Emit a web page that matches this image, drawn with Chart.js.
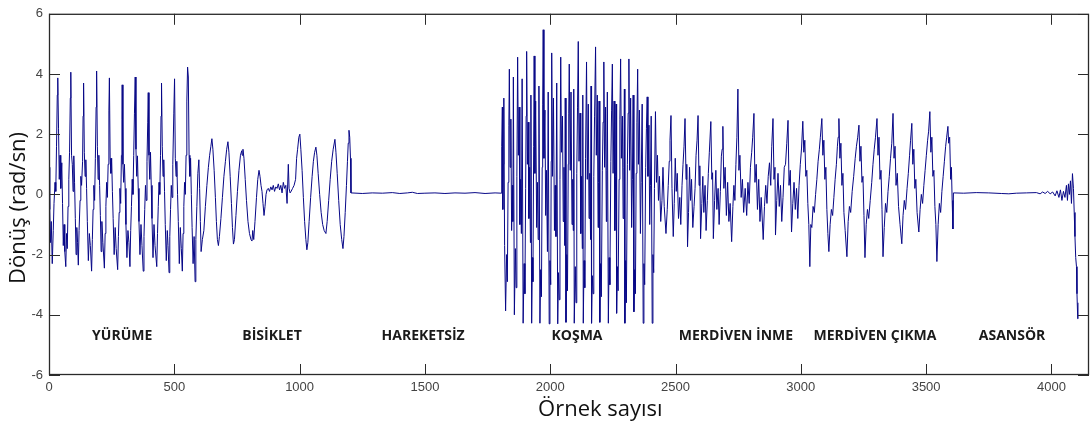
<!DOCTYPE html>
<html>
<head>
<meta charset="utf-8">
<script src="https://cdn.jsdelivr.net/npm/chart.js@4.4.1/dist/chart.umd.min.js"></script>
<style>
  html, body { margin: 0; padding: 0; background: #fff; }
  #wrap { width: 1092px; height: 426px; position: relative; }
</style>
</head>
<body>
<div id="wrap"><canvas id="chart"></canvas></div>
<script>
// Gyro rotation readings (sample index, rad/sn) per activity
const walking = [
  [0,0.9],[3,-0.5],[6,-1.6],[9,-0.9],[13,-2.3],[17,-1.2],[20,-0.3],[24,0.4],[27,0.1],[30,1.6],[33,3.3],[35,3.87],
  [38,2.2],[41,0.5],[44,1.3],[47,0.2],[51,1.05],[54,-0.3],[57,-1.7],[60,-1.0],[63,-1.9],[67,-2.4],[70,-1.3],[73,-1.8],[76,-0.4],[79,0.5],[82,1.4],[85,3.2],[87,4.06],
  [90,1.3],[93,1.0],[96,0.1],[99,1.28],[102,0.4],[105,-0.8],[108,-2.0],[111,-1.1],[114,-1.6],[117,-2.35],[120,-1.2],[124,-0.2],[127,0.6],[130,0.3],[134,1.1],[136,2.6],[138,3.7],
  [141,1.4],[144,0.6],[147,1.15],[150,0.2],[153,-0.9],[157,-2.2],[161,-1.3],[165,-1.7],[170,-2.55],[173,-1.5],[176,-0.5],[179,0.3],[182,-0.2],[185,1.2],[188,2.9],[190,4.1],
  [193,1.6],[196,0.5],[199,1.3],[202,0.3],[205,-0.7],[208,-1.9],[211,-0.9],[215,-1.6],[221,-2.45],[224,-1.3],[227,-0.4],[230,0.4],[233,-0.1],[236,1.0],[239,2.8],[241,3.87],
  [244,1.2],[247,0.7],[250,1.2],[253,0.1],[256,-0.8],[260,-2.0],[264,-1.1],[268,-1.8],[274,-2.5],[277,-1.4],[280,-0.6],[283,0.2],[286,-0.3],[289,1.3],[291,2.5],[292,3.64],
  [295,1.0],[298,0.4],[301,1.0],[304,0.2],[307,-1.0],[311,-2.1],[315,-1.2],[319,-1.6],[323,-2.4],[326,-1.2],[329,-0.4],[332,0.5],[335,0.0],[338,1.3],[341,2.7],[344,3.9],
  [347,1.5],[350,0.6],[353,1.28],[356,0.2],[359,-0.9],[363,-2.0],[367,-1.0],[371,-1.7],[376,-2.55],[379,-1.4],[382,-0.5],[385,0.3],[388,-0.2],[391,1.1],[394,2.4],[396,3.38],
  [399,1.3],[402,0.5],[405,1.4],[408,0.3],[411,-0.8],[415,-2.1],[419,-1.0],[423,-1.7],[430,-2.4],[433,-1.3],[436,-0.4],[439,0.4],[442,0.0],[445,1.3],[447,2.6],[449,3.7],
  [452,1.6],[455,0.6],[458,1.15],[461,0.1],[464,-1.0],[468,-2.2],[472,-1.2],[475,-1.7],[479,-2.6],[482,-1.4],[485,-0.5],[488,0.3],[491,-0.1],[494,1.0],[498,2.7],[501,3.84],
  [504,1.2],[507,0.6],[510,1.1],[513,0.0],[516,-0.9],[520,-2.3],[524,-1.1],[528,-1.8],[532,-2.55],[535,-1.3],[538,-0.4],[541,0.4],[544,0.0],[547,1.3],[550,3.1],[553,4.23],
  [556,3.9],[559,1.3],[562,0.6],[565,1.2],[568,0.0],[571,-1.1],[575,-2.3],[579,-1.4],[583,-2.9],[586,-1.5],[590,-0.4],[594,0.7],[598,1.15],[601,0.2],[604,-0.9]
];

const cycling = [
  [607,-1.9],[612,-1.5],[618,-1.2],[624,-0.4],[630,0.3],[636,0.9],[641,1.3],[646,1.6],[650,1.85],[654,1.5],[659,0.8],[664,-0.1],[668,-0.9],[672,-1.5],[676,-1.7],
  [680,-1.4],[686,-0.8],[692,-0.1],[698,0.6],[704,1.1],[709,1.5],[714,1.75],[718,1.4],[723,0.6],[728,-0.3],[732,-1.1],[736,-1.65],[740,-1.5],[746,-0.7],
  [752,0.1],[758,0.8],[764,1.3],[769,1.45],[771,1.3],[774,1.5],[778,1.2],[783,0.5],[788,-0.2],[794,-0.9],[800,-1.3],[806,-1.5],[810,-1.55],[813,-1.2],[817,-1.5],
  [822,-0.9],[828,-0.1],[833,0.5],[838,0.8],[842,0.6],[846,0.3],[850,0.1],[854,-0.3],[858,-0.7],[862,-0.4],[866,0.0],[870,0.15],[875,0.2],[880,0.1],[885,0.25],
  [890,0.15],[895,0.3],[900,0.1],[905,0.25],[910,0.2],[915,0.35],[920,0.15],[925,0.3],[930,0.05],[935,0.4],[940,0.2],[945,0.3],[950,-0.3],[955,1.0],[958,0.2],
  [962,0.05],[966,0.1],[972,0.2],[978,0.3],[984,0.5],[988,1.2],[992,1.5],[997,1.9],[1001,2.0],[1005,1.5],[1010,0.8],[1015,-0.1],[1020,-0.9],[1025,-1.5],[1029,-1.84],
  [1033,-1.6],[1038,-0.9],[1044,-0.1],[1050,0.6],[1055,1.1],[1060,1.4],[1065,1.57],[1069,1.3],[1074,0.7],[1080,0.0],[1086,-0.6],[1092,-1.0],[1098,-1.2],[1105,-1.3],
  [1110,-0.9],[1116,-0.2],[1122,0.5],[1128,1.1],[1134,1.5],[1141,1.83],[1145,1.4],[1150,0.7],[1156,-0.2],[1162,-1.0],[1168,-1.5],[1173,-1.8],[1177,-1.4],[1182,-0.6],
  [1187,0.3],[1191,1.1],[1194,1.7],[1197,2.13],[1200,1.9],[1203,1.2],[1205,0.05]
];

const resting = [
  [1250,0.03],[1290,0.05],[1330,0.04],[1370,0.06],[1400,0.03],[1430,0.05],[1450,0.07],[1470,0.03],[1500,0.04],
  [1540,0.05],[1580,0.03],[1620,0.05],[1660,0.04],[1700,0.06],[1740,0.03],[1780,0.05],[1805,0.04]
];

const running = [
  [1806,0.05],[1807,1.6],[1809,2.9],[1811,-0.5],[1813,1.0],[1815,3.2],[1818,-1.7],[1822,-3.87],
  [1826,-2.0],[1829,-2.9],[1832,0.4],[1835,2.3],[1837,4.16],[1840,0.9],[1843,2.5],[1846,-1.2],[1849,0.3],[1851,-0.9],[1853,3.9],[1857,-4.0],
  [1861,-1.8],[1864,-3.1],[1867,0.6],[1870,4.56],[1873,1.3],[1876,2.9],[1879,-1.0],[1882,0.5],[1885,-1.3],[1888,3.84],[1892,-4.28],
  [1896,-2.3],[1899,-3.3],[1902,0.2],[1904,2.6],[1906,4.75],[1909,1.0],[1912,2.4],[1915,-0.8],[1918,0.9],[1921,-1.6],[1923,3.3],[1926,-4.28],
  [1929,-2.1],[1931,-2.9],[1934,1.6],[1936,4.6],[1939,0.7],[1942,3.1],[1946,-1.1],[1949,0.4],[1952,-1.5],[1955,3.6],[1959,-4.28],
  [1962,-2.5],[1965,-3.4],[1968,0.9],[1970,3.0],[1972,5.47],[1975,1.2],[1979,2.8],[1982,-0.7],[1985,0.8],[1989,-1.9],[1992,3.4],[1996,-4.3],
  [1999,-2.2],[2002,-3.0],[2004,1.1],[2006,4.7],[2009,0.6],[2013,3.2],[2017,-1.2],[2020,0.3],[2023,-1.4],[2026,3.7],[2030,-4.3],
  [2033,-2.6],[2036,-3.5],[2039,0.5],[2042,4.56],[2045,1.4],[2049,2.6],[2052,-0.9],[2055,0.9],[2058,-1.7],[2060,3.2],[2063,-4.25],
  [2066,-2.0],[2069,-3.2],[2072,1.0],[2074,2.7],[2076,4.33],[2080,0.8],[2083,3.4],[2087,-1.0],[2090,0.5],[2092,-1.2],[2094,3.5],[2096,-4.28],
  [2100,-2.4],[2103,-3.6],[2106,0.7],[2109,2.9],[2112,5.08],[2115,1.1],[2119,2.7],[2122,-1.3],[2125,0.6],[2128,-1.8],[2130,3.3],[2132,-4.28],
  [2135,-2.2],[2138,-3.1],[2141,1.2],[2145,4.4],[2148,0.5],[2152,3.0],[2155,-0.8],[2158,0.7],[2161,-1.5],[2163,3.6],[2165,-4.28],
  [2168,-2.7],[2171,-3.3],[2174,0.6],[2177,2.6],[2181,4.9],[2184,1.3],[2188,3.3],[2191,-1.1],[2193,0.4],[2195,3.1],[2198,-4.25],
  [2201,-2.3],[2204,-3.4],[2208,0.8],[2211,2.4],[2214,4.4],[2217,0.9],[2221,2.9],[2224,-0.9],[2226,0.8],[2228,3.4],[2232,-4.28],
  [2235,-2.1],[2238,-3.0],[2242,1.1],[2245,2.8],[2248,4.33],[2251,0.7],[2255,3.1],[2258,-1.2],[2261,0.6],[2263,3.0],[2265,-3.95],
  [2268,-2.4],[2271,-3.2],[2275,0.5],[2278,2.5],[2281,4.5],[2284,1.2],[2288,2.6],[2291,-0.8],[2294,0.9],[2296,3.5],[2298,-4.28],
  [2301,-2.2],[2304,-3.6],[2308,1.0],[2311,2.7],[2314,4.5],[2317,0.8],[2321,3.2],[2325,-1.1],[2328,0.5],[2331,3.3],[2334,-3.9],
  [2337,-2.5],[2340,-3.3],[2343,0.7],[2346,2.4],[2349,4.16],[2352,1.0],[2356,2.8],[2360,-1.3],[2363,0.4],[2367,3.0],[2371,-4.28],
  [2374,-2.3],[2377,-3.0],[2381,0.9],[2384,2.2],[2387,3.24],[2390,0.6],[2394,2.3],[2397,-1.0],[2400,0.3],[2403,2.6],[2407,-4.28],
  [2410,-2.0],[2413,-2.6],[2416,0.2]
];

const stairsDown = [
  [2420,2.75],[2424,0.4],[2428,1.3],[2432,-0.2],[2436,0.6],[2441,-0.9],[2446,-0.2],[2450,0.9],[2455,-0.4],[2462,-1.3],[2467,-0.5],[2471,0.3],[2475,1.1],[2478,1.8],[2482,2.62],
  [2486,0.2],[2491,-1.4],[2495,-0.3],[2499,1.2],[2503,0.1],[2507,0.7],[2512,-0.8],[2517,-0.1],[2521,-1.0],[2526,0.3],[2530,1.0],[2534,1.6],[2538,2.52],
  [2542,0.5],[2545,1.0],[2548,-1.74],[2552,-0.6],[2556,0.9],[2560,-0.2],[2564,0.5],[2569,-1.1],[2574,-0.4],[2578,0.2],[2582,1.3],[2586,1.8],[2590,2.62],
  [2594,0.3],[2597,0.95],[2600,-1.47],[2605,-0.3],[2609,0.6],[2613,-0.6],[2618,0.3],[2622,-1.2],[2627,-0.2],[2631,0.7],[2635,1.4],[2641,2.42],
  [2645,0.5],[2648,0.72],[2651,-1.47],[2656,-0.2],[2661,0.8],[2665,-0.5],[2670,0.2],[2674,-1.0],[2679,0.1],[2683,1.27],[2686,1.5],[2689,2.26],
  [2693,0.2],[2698,0.9],[2703,-0.7],[2708,0.4],[2713,-0.9],[2718,-0.3],[2724,-1.57],[2729,-0.4],[2733,0.3],[2737,-0.2],[2741,1.0],[2745,1.9],[2749,3.5],
  [2753,0.8],[2757,1.3],[2762,-0.1],[2767,0.5],[2772,-0.6],[2778,0.2],[2784,-0.7],[2789,0.4],[2794,-0.3],[2799,0.9],[2804,1.4],[2808,1.9],[2813,2.69],
  [2817,0.4],[2822,1.0],[2827,-0.5],[2832,0.5],[2837,-0.9],[2842,-0.1],[2850,-1.5],[2855,-0.4],[2860,0.3],[2865,-0.3],[2870,0.6],[2875,1.05],[2880,0.3],[2884,1.6],[2889,2.52],
  [2893,0.5],[2897,0.9],[2899,-1.35],[2904,-0.2],[2909,0.7],[2914,-0.4],[2919,0.3],[2924,-0.9],[2929,-0.1],[2934,0.9],[2939,1.0],[2944,1.7],[2949,2.46],
  [2953,0.3],[2958,0.8],[2963,-1.25],[2968,-0.3],[2973,0.4],[2978,-0.5],[2983,0.2],[2988,-0.8],[2993,0.3],[2998,1.0],[3003,1.54],[3008,2.43]
];

const stairsUp = [
  [3012,1.4],[3016,1.8],[3020,0.6],[3024,0.8],[3028,-0.3],[3032,-1.0],[3036,-2.4],[3040,-1.0],[3044,-1.1],[3049,-0.4],[3054,-0.6],[3059,0.0],[3064,0.5],[3069,1.1],[3074,1.5],[3078,1.9],[3084,2.52],
  [3088,1.3],[3092,1.8],[3096,0.5],[3100,0.9],[3104,-0.5],[3108,-1.3],[3112,-1.9],[3117,-1.0],[3122,-0.5],[3127,-0.7],[3132,-0.1],[3137,0.5],[3142,1.0],[3146,1.6],[3149,1.9],[3152,2.52],
  [3156,1.2],[3160,1.7],[3164,0.3],[3168,0.7],[3172,-0.6],[3177,-1.2],[3184,-2.07],[3189,-0.9],[3194,-0.4],[3199,-0.6],[3205,0.1],[3211,0.6],[3217,1.2],[3222,1.6],[3227,1.9],[3232,2.3],
  [3236,1.1],[3240,1.6],[3244,0.4],[3248,0.6],[3252,-0.7],[3256,-2.1],[3261,-1.0],[3266,-0.5],[3271,-0.8],[3277,-0.2],[3283,0.4],[3288,1.0],[3293,1.5],[3298,1.9],[3304,2.52],
  [3308,1.3],[3312,1.9],[3316,0.5],[3320,0.8],[3324,-0.5],[3328,-2.07],[3333,-1.1],[3338,-0.3],[3343,-0.6],[3348,0.1],[3353,0.6],[3358,1.2],[3363,1.7],[3368,2.69],
  [3372,1.2],[3376,1.6],[3380,0.3],[3385,0.7],[3390,-0.4],[3396,-1.0],[3403,-1.64],[3408,-0.7],[3413,-0.2],[3418,-0.5],[3424,0.2],[3429,0.7],[3434,1.3],[3438,1.8],[3443,2.36],
  [3447,1.0],[3451,1.5],[3455,0.2],[3459,0.5],[3464,-0.6],[3471,-1.25],[3476,-0.5],[3481,0.0],[3486,-0.3],[3491,0.3],[3496,0.8],[3501,1.3],[3506,1.8],[3510,2.1],[3515,2.75],
  [3519,1.4],[3523,1.9],[3527,0.6],[3531,0.8],[3535,-0.4],[3539,-1.0],[3543,-2.23],[3548,-1.0],[3553,-0.3],[3558,-0.6],[3563,0.1],[3568,0.6],[3573,1.1],[3578,1.6],[3582,1.9],[3587,2.26],
  [3590,1.7],[3594,1.9],[3598,0.5],[3601,0.9],[3604,-0.2],[3607,-1.15]
];

const elevator = [
  [3609,0.05],[3650,0.04],[3700,0.06],[3750,0.05],[3800,0.03],[3830,0.02],[3860,0.04],[3900,0.05],[3940,0.06],[3955,0.02],[3965,0.08],
  [3975,0.03],[3985,0.1],[3995,0.02],[4005,0.08],[4015,-0.05],[4022,0.12],[4030,-0.1],[4036,0.15],[4042,-0.2],[4048,0.1],[4054,-0.1],
  [4060,0.3],[4064,-0.2],[4068,0.35],[4072,0.0],[4076,0.45],[4080,-0.3],[4084,0.69],[4088,0.2],[4091,-0.6],[4094,-1.4],[4097,-2.1],
  [4100,-2.4],[4102,-3.3],[4105,-4.13],[4106,-3.6]
];

// axis ticks
const xTicks = [0, 500, 1000, 1500, 2000, 2500, 3000, 3500, 4000];
const yTicks = [-6, -4, -2, 0, 2, 4, 6];

// activity names written under the signal, centred at these sample indices
const activityNames = ['YÜRÜME', 'BİSİKLET', 'HAREKETSİZ', 'KOŞMA', 'MERDİVEN İNME', 'MERDİVEN ÇIKMA', 'ASANSÖR'];
const activityCenters = [292, 890, 1493, 2107, 2741, 3296, 3843];
const activityLevel = -4.7;

const xTitle = 'Örnek sayısı';
const yTitle = 'Dönüş (rad/sn)';

const signal = [walking, cycling, resting, running, stairsDown, stairsUp, elevator]
  .flat()
  .map(p => ({ x: p[0], y: p[1] }));

// MATLAB style box with inward ticks, activity names and axis titles
const matlabFrame = {
  id: 'matlabFrame',
  afterDraw(chart) {
    const { ctx, chartArea: a, scales: { x, y } } = chart;
    ctx.save();
    ctx.strokeStyle = '#2a2a2a';
    ctx.lineWidth = 1.3;
    ctx.strokeRect(a.left + 0.5, a.top + 0.5, a.width - 1, a.height - 1);

    ctx.lineWidth = 1;
    ctx.beginPath();
    x.ticks.forEach(t => {
      const px = Math.round(x.getPixelForValue(t.value)) + 0.5;
      ctx.moveTo(px, a.bottom); ctx.lineTo(px, a.bottom - 11);
      ctx.moveTo(px, a.top); ctx.lineTo(px, a.top + 11);
    });
    y.ticks.forEach(t => {
      const py = Math.round(y.getPixelForValue(t.value)) + 0.5;
      ctx.moveTo(a.left, py); ctx.lineTo(a.left + 11, py);
      ctx.moveTo(a.right, py); ctx.lineTo(a.right - 11, py);
    });
    ctx.stroke();

    ctx.fillStyle = '#1a1a1a';
    ctx.textAlign = 'center';
    ctx.textBaseline = 'middle';
    ctx.font = 'bold 14px "Open Sans"';
    activityNames.forEach((name, i) => {
      ctx.fillText(name, x.getPixelForValue(activityCenters[i]), y.getPixelForValue(activityLevel));
    });

    ctx.font = '22px "Open Sans"';
    ctx.fillStyle = '#111';
    ctx.fillText(xTitle, x.getPixelForValue(2200), 410);

    ctx.translate(19, y.getPixelForValue(-0.45));
    ctx.rotate(-Math.PI / 2);
    ctx.fillText(yTitle, 0, 0);
    ctx.restore();
  }
};

const ctx = document.getElementById('chart');
new Chart(ctx, {
  type: 'line',
  data: {
    datasets: [{
      data: signal,
      borderColor: 'rgb(8, 8, 135)',
      borderWidth: 1,
      pointRadius: 0,
      tension: 0,
      fill: false
    }]
  },
  options: {
    responsive: true,
    maintainAspectRatio: false,
    animation: false,
    parsing: false,
    layout: { padding: { top: 9, right: 3, left: 0, bottom: 0 } },
    plugins: {
      legend: { display: false },
      tooltip: { enabled: false }
    },
    scales: {
      x: {
        type: 'linear',
        min: 0,
        max: 4150,
        afterBuildTicks(scale) { scale.ticks = xTicks.map(v => ({ value: v })); },
        afterFit(scale) { scale.height = 51; },
        grid: { drawOnChartArea: false, drawTicks: false },
        border: { display: false },
        ticks: {
          autoSkip: false,
          maxRotation: 0,
          padding: 5,
          color: '#444',
          font: { family: '"Liberation Sans", Arial', size: 13 },
          callback: v => String(v)
        }
      },
      y: {
        type: 'linear',
        min: -6,
        max: 6,
        afterBuildTicks(scale) { scale.ticks = yTicks.map(v => ({ value: v })); },
        afterFit(scale) { scale.width = 49; },
        grid: { drawOnChartArea: false, drawTicks: false },
        border: { display: false },
        ticks: {
          padding: 6,
          color: '#444',
          font: { family: '"Liberation Sans", Arial', size: 13 },
          callback: v => String(v)
        }
      }
    }
  },
  plugins: [matlabFrame]
});
</script>
</body>
</html>
